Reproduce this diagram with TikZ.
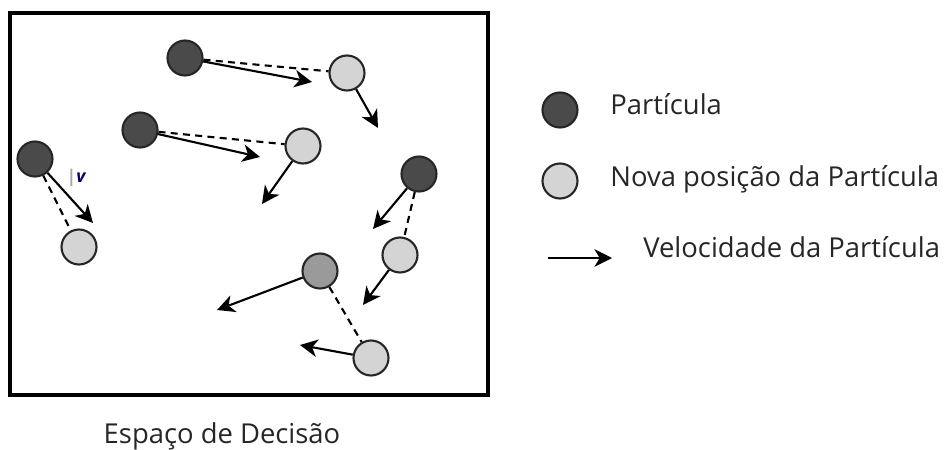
\documentclass[tikz,border=0pt]{standalone}
\usepackage{fontspec}
\setmainfont{Open Sans}
\usepackage{xcolor}
\usetikzlibrary{arrows.meta}

\definecolor{partdark}{HTML}{4A4A4A}
\definecolor{partmid}{HTML}{9A9A9A}
\definecolor{partlight}{HTML}{D4D4D4}

\begin{document}
\begin{tikzpicture}[
  x=0.02cm, y=-0.02cm,
  dot/.style={circle, draw=black!85, line width=1.2pt, minimum size=0.7cm,
    inner sep=0pt},
  old/.style={dot, fill=partdark},
  mid/.style={dot, fill=partmid},
  new/.style={dot, fill=partlight},
  vel/.style={-{Stealth[length=10pt, width=10pt, inset=3pt]}, line width=1.2pt},
  trail/.style={dashed, dash pattern=on 4pt off 3pt, line width=1.2pt},
  lbl/.style={font=\fontsize{15.6}{19}\selectfont, text=black!85, anchor=west,
    inner sep=0pt}
]
\useasboundingbox (0,0) rectangle (944,450);

% espaco de decisao
\draw[line width=2pt] (10,13) rectangle (488,395);

\node[old] (p1) at (185,58) {};
\node[old] (p2) at (140,130) {};
\node[old] (p3) at (35,159) {};
\node[old] (p4) at (419,174) {};
\node[mid] (p5) at (320,271) {};

\node[new] (n1) at (347,73) {};
\node[new] (n2) at (303,146) {};
\node[new] (n3) at (79,247) {};
\node[new] (n4) at (400,255) {};
\node[new] (n5) at (371,358) {};

\coordinate (t1) at (312,82);
\coordinate (t2) at (260,157);
\coordinate (t3) at (93,223);
\coordinate (t4) at (373,229);
\coordinate (t5) at (217,310);
\coordinate (u1) at (378,128);
\coordinate (u2) at (262,204);
\coordinate (u4) at (363,305);
\coordinate (u5) at (300,345);

\draw[trail] (p1) -- (n1);
\draw[trail] (p2) -- (n2);
\draw[trail] (p3) -- (n3);
\draw[trail] (p4) -- (n4);
\draw[trail] (p5) -- (n5);

\draw[vel] (p1) -- (t1);
\draw[vel] (p2) -- (t2);
\draw[vel] (p3) -- (t3);
\draw[vel] (p4) -- (t4);
\draw[vel] (p5) -- (t5);
\draw[vel] (n1) -- (u1);
\draw[vel] (n2) -- (u2);
\draw[vel] (n4) -- (u4);
\draw[vel] (n5) -- (u5);

\node[font=\normalsize\bfseries\itshape, text=blue!40!black] (vlab) at (76,178)
  {\textcolor{black!35}{|}v};

\node[font=\fontsize{15.6}{19}\selectfont, text=black!85] (caption) at (222,436)
  {Espaço de Decisão};

% legenda
\node[old] (legold) at (560,110) {};
\node[new] (legnew) at (560,181) {};
\coordinate (legs) at (548,258);
\coordinate (lege) at (612,258);
\draw[vel] (legs) -- (lege);

\node[lbl] (txtold) at (610,104) {Partícula};
\node[lbl] (txtnew) at (610,179) {Nova posição da Partícula};
\node[lbl] (txtvel) at (643,247) {Velocidade da Partícula};
\end{tikzpicture}
\end{document}
